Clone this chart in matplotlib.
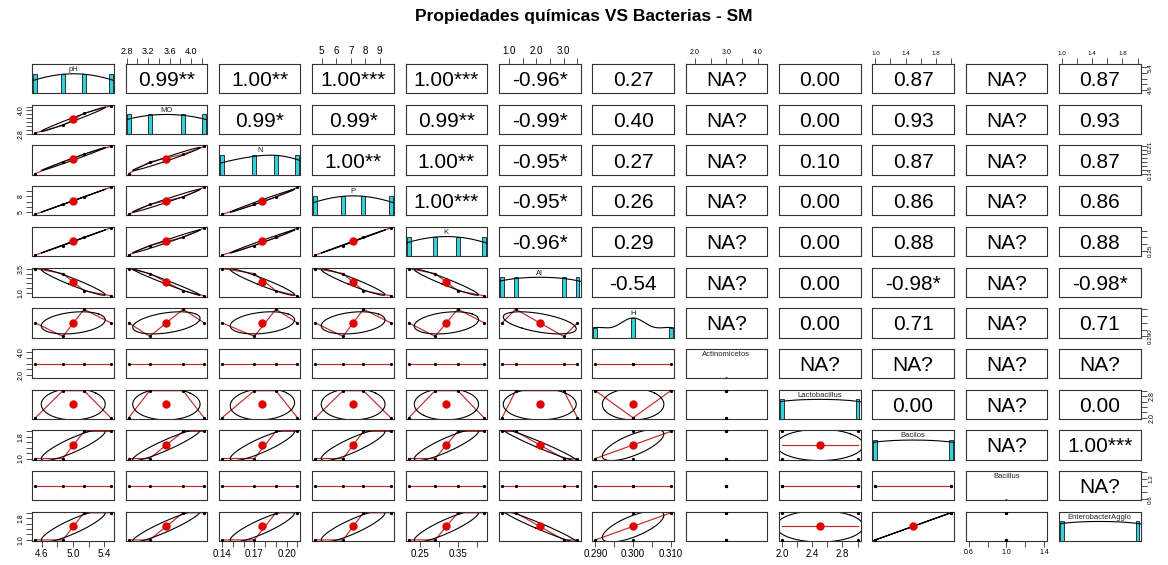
import numpy as np
import matplotlib
matplotlib.use('Agg')
import matplotlib.pyplot as plt
from matplotlib.patches import Rectangle

plt.rcParams['font.family'] = ['Liberation Sans', 'DejaVu Sans']

# four soil samples, one value per sample
names = ['pH', 'MO', 'N', 'P', 'K', 'Al', 'H', 'Actinomicetos',
         'Lactobacillus', 'Bacilos', 'Bacillus', 'EnterobacterAgglo']
ph = [4.52, 4.87, 5.14, 5.48]
mo = [2.84, 3.23, 3.85, 4.24]
nitrogen = [0.14, 0.17, 0.19, 0.21]
phosphorus = [4.56, 6.47, 7.88, 9.77]
potassium = [0.22, 0.29, 0.35, 0.42]
aluminium = [3.5, 3.0, 1.25, 0.75]
hydrogen = [0.30, 0.29, 0.31, 0.30]
actinomicetos = [3, 3, 3, 3]
lactobacillus = [2, 3, 3, 2]
bacilos = [1, 1, 2, 2]
bacillus = [1, 1, 1, 1]
enterobacter = [1, 1, 2, 2]

data = [ph, mo, nitrogen, phosphorus, potassium, aluminium, hydrogen,
        actinomicetos, lactobacillus, bacilos, bacillus, enterobacter]

# correlation text for the upper triangle, row by row
cor_labels = [
    ['0.99**', '1.00**', '1.00***', '1.00***', '-0.96*', '0.27', 'NA?', '0.00', '0.87', 'NA?', '0.87'],
    ['0.99*', '0.99*', '0.99**', '-0.99*', '0.40', 'NA?', '0.00', '0.93', 'NA?', '0.93'],
    ['1.00**', '1.00**', '-0.95*', '0.27', 'NA?', '0.10', '0.87', 'NA?', '0.87'],
    ['1.00***', '-0.95*', '0.26', 'NA?', '0.00', '0.86', 'NA?', '0.86'],
    ['-0.96*', '0.29', 'NA?', '0.00', '0.88', 'NA?', '0.88'],
    ['-0.54', 'NA?', '0.00', '-0.98*', 'NA?', '-0.98*'],
    ['NA?', '0.00', '0.71', 'NA?', '0.71'],
    ['NA?', 'NA?', 'NA?', 'NA?'],
    ['0.00', 'NA?', '0.00'],
    ['NA?', '1.00***'],
    ['NA?'],
]

# axis ticks and the labels that get printed on the outer axes
ticks = [
    [4.6, 4.8, 5.0, 5.2, 5.4],
    [2.8, 3.0, 3.2, 3.4, 3.6, 3.8, 4.0, 4.2],
    [0.14, 0.15, 0.16, 0.17, 0.18, 0.19, 0.20, 0.21],
    [5, 6, 7, 8, 9],
    [0.25, 0.30, 0.35, 0.40],
    [1.0, 1.5, 2.0, 2.5, 3.0, 3.5],
    [0.290, 0.295, 0.300, 0.305, 0.310],
    [2.0, 2.5, 3.0, 3.5, 4.0],
    [2.0, 2.2, 2.4, 2.6, 2.8, 3.0],
    [1.0, 1.2, 1.4, 1.6, 1.8, 2.0],
    [0.6, 0.8, 1.0, 1.2, 1.4],
    [1.0, 1.2, 1.4, 1.6, 1.8, 2.0],
]
x_tick_labels = {
    0: ['4.6', '', '5.0', '', '5.4'],
    1: ['2.8', '', '3.2', '', '3.6', '', '4.0', ''],
    2: ['0.14', '', '', '0.17', '', '', '0.20', ''],
    3: ['5', '6', '7', '8', '9'],
    4: ['0.25', '', '0.35', ''],
    5: ['1.0', '', '2.0', '', '3.0', ''],
    6: ['0.290', '', '0.300', '', '0.310'],
    7: ['2.0', '', '3.0', '', '4.0'],
    8: ['2.0', '', '2.4', '', '2.8', ''],
    9: ['1.0', '', '1.4', '', '1.8', ''],
    10: ['0.6', '', '1.0', '', '1.4'],
    11: ['1.0', '', '1.4', '', '1.8', ''],
}
y_tick_labels = {
    0: ['4.6', '', '', '', '5.4'],
    1: ['2.8', '', '', '', '', '', '4.0', ''],
    2: ['0.14', '', '', '', '', '', '', '0.21'],
    3: ['5', '', '', '8', ''],
    4: ['0.25', '', '', ''],
    5: ['1.0', '', '', '', '', '3.5'],
    6: ['0.290', '', '', '', ''],
    7: ['2.0', '', '', '', '4.0'],
    8: ['2.0', '', '', '', '2.8', ''],
    9: ['1.0', '', '', '', '1.8', ''],
    10: ['0.6', '', '', '1.2', ''],
    11: ['1.0', '', '', '', '1.8', ''],
}
x_label_size = [7, 6.5, 7, 7, 7, 7, 7, 5, 7, 4.5, 5, 4.5]
y_label_size = [4.5, 5, 4.5, 5, 4.5, 5, 4.5, 5, 5, 5, 4.5, 5]

nvar = len(names)


def data_limits(v):
    v = np.asarray(v, float)
    lo, hi = v.min(), v.max()
    if hi == lo:
        lo, hi = lo - 0.4 * abs(lo), hi + 0.4 * abs(hi)
    pad = 0.04 * (hi - lo)
    return lo - pad, hi + pad


def lowess_fit(x, y, f=2 / 3):
    order = np.argsort(x, kind='stable')
    xs = np.asarray(x, float)[order]
    ys = np.asarray(y, float)[order]
    n = len(xs)
    ns = max(min(int(round(f * n)), n), 2)
    rng = xs[-1] - xs[0]
    fit = np.empty(n)
    for i in range(n):
        d = np.abs(xs - xs[i])
        hh = np.sort(d)[ns - 1]
        if hh > 0:
            w = np.where(d <= 0.999 * hh, (1 - (d / hh) ** 3) ** 3, 0.0)
            w[d <= 0.001 * hh] = 1.0
        else:
            w = np.ones(n)
        w = w / w.sum()
        a = (w * xs).sum()
        c = (w * (xs - a) ** 2).sum()
        if hh > 0 and np.sqrt(c) > 0.001 * rng:
            w = w * ((xs[i] - a) * (xs - a) / c + 1)
        fit[i] = (w * ys).sum()
    return xs, fit


def density_curve(v, grid):
    v = np.asarray(v, float)
    q25, q75 = np.percentile(v, [25, 75])
    bw = 1.06 * min(v.std(ddof=1), (q75 - q25) / 1.34) * len(v) ** -0.2 * 1.2
    dens = np.exp(-0.5 * ((grid[:, None] - v[None, :]) / bw) ** 2).sum(axis=1)
    return dens / dens.max()


def correlation(a, b):
    a = np.asarray(a, float)
    b = np.asarray(b, float)
    if a.std() == 0 or b.std() == 0:
        return np.nan
    return np.corrcoef(a, b)[0, 1]


fig = plt.figure(figsize=(11.68, 5.65), dpi=100)
W, H = 1168, 565
x0, dx, pw = 32.3, 93.34, 81.5
y0, dy, ph_ = 64.0, 40.7, 29.3

fig.text(0.5, 1 - 17 / H, 'Propiedades químicas VS Bacterias - SM',
         ha='center', va='center', fontsize=12.5, fontweight='bold')

for i in range(nvar):
    for j in range(nvar):
        ax = fig.add_axes([(x0 + j * dx) / W, 1 - (y0 + i * dy + ph_) / H, pw / W, ph_ / H])
        for s in ax.spines.values():
            s.set_linewidth(0.8)
            s.set_color('#333333')
        ax.set_xticks([])
        ax.set_yticks([])
        xlim = data_limits(data[j])
        ylim = data_limits(data[i])

        if i < j:
            ax.text(0.5, 0.5, cor_labels[i][j - i - 1], transform=ax.transAxes,
                    ha='center', va='center_baseline', fontsize=15)
        elif i == j:
            ax.set_xlim(xlim)
            ax.set_ylim(0, 1.5)
            v = np.asarray(data[i], float)
            vals, counts = np.unique(v, return_counts=True)
            if len(vals) > 1:
                hw = 0.026 * (v.max() - v.min())
                for val, cnt in zip(vals, counts):
                    ax.add_patch(Rectangle((val - hw, 0), 2 * hw, cnt / counts.max(),
                                           facecolor='#2fd3df', edgecolor='#1a1a1a', lw=0.6))
                grid = np.linspace(xlim[0], xlim[1], 200)
                ax.plot(grid, density_curve(v, grid), color='black', lw=0.8)
            else:
                ax.plot(vals, [0.03], 'o', color='black', ms=0.8)
            ax.text(0.5, 0.81, names[i], transform=ax.transAxes, ha='center',
                    va='center', fontsize=5.5, color='#222222')
        else:
            ax.set_xlim(xlim)
            ax.set_ylim(ylim)
            x = np.asarray(data[j], float)
            y = np.asarray(data[i], float)
            ax.plot(x, y, 'o', color='black', ms=1.3, zorder=3)
            lx, ly = lowess_fit(x, y)
            ax.plot(lx, ly, color='#c42a2a', lw=0.85, zorder=2)
            r = correlation(x, y)
            if not np.isnan(r):
                theta = (np.sign(r) if abs(r) > 0 else 1) / np.sqrt(2)
                ang = np.linspace(0, 2 * np.pi, 52)
                shape = np.diag([np.sqrt(1 + r), np.sqrt(max(1 - r, 0))]) @ \
                    np.array([[theta, theta], [-theta, theta]])
                ell = np.column_stack([np.cos(ang), np.sin(ang)]) @ shape
                ax.plot(x.mean(), y.mean(), 'o', color='#e00000', ms=5, zorder=4)
                ax.plot(ell[:, 0] * x.std(ddof=1) + x.mean(),
                        ell[:, 1] * y.std(ddof=1) + y.mean(), color='black', lw=0.8, zorder=2)

        tick_kw = dict(direction='out', length=4, width=0.6, color='#333333', pad=1.5)
        if i == nvar - 1 and j % 2 == 0:
            ax.set_xlim(xlim)
            ax.set_xticks(ticks[j])
            ax.set_xticklabels(x_tick_labels[j], fontsize=x_label_size[j])
            ax.tick_params(axis='x', bottom=True, **tick_kw)
        if i == 0 and j % 2 == 1:
            ax.set_xlim(xlim)
            ax.set_xticks(ticks[j])
            ax.set_xticklabels(x_tick_labels[j], fontsize=x_label_size[j])
            ax.tick_params(axis='x', top=True, bottom=False, labeltop=True,
                           labelbottom=False, **tick_kw)
        if j == 0 and i % 2 == 1:
            ax.set_ylim(ylim)
            ax.set_yticks(ticks[i])
            ax.set_yticklabels(y_tick_labels[i], fontsize=y_label_size[i],
                               rotation=90, va='center')
            ax.tick_params(axis='y', left=True, **tick_kw)
        if j == nvar - 1 and i % 2 == 0:
            ax.set_ylim(ylim)
            ax.set_yticks(ticks[i])
            ax.set_yticklabels(y_tick_labels[i], fontsize=y_label_size[i],
                               rotation=90, va='center')
            ax.tick_params(axis='y', left=False, right=True, labelleft=False,
                           labelright=True, **tick_kw)

fig.savefig('out.png', dpi=100)
